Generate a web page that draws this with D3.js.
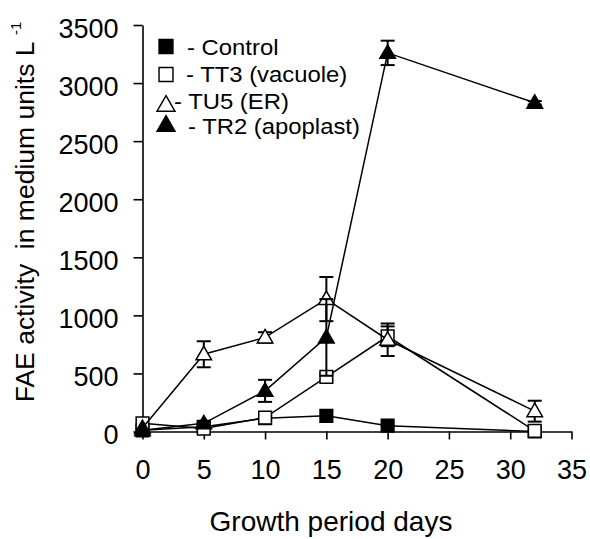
<!DOCTYPE html>
<html>
<head>
<meta charset="utf-8">
<script src="https://cdn.jsdelivr.net/npm/d3@7"></script>
<style>
  body { margin: 0; background: #fff; }
  svg { display: block; font-family: "Liberation Sans", Arial, sans-serif; }
</style>
</head>
<body>
<svg></svg>
<script>
const width = 590;
const height = 539;

// growth period (days)
const days = [0, 5, 10, 15, 20, 32];

// FAE activity, medium units per litre
const control = [10, 40, 115, 135, 50, 0];
const tt3 = [70, 25, 120, 470, 820, 5];
const tu5 = [30, 665, 810, 1140, 790, 175];
const tr2 = [10, 70, 350, 810, 3260, 2830];

// standard errors
const controlErr = [0, 0, 0, 0, 0, 0];
const tt3Err = [0, 10, 10, 30, 85, 0];
const tu5Err = [0, 112, 45, 190, 140, 90];
const tr2Err = [0, 20, 95, 330, 105, 15];

const xTicks = [0, 5, 10, 15, 20, 25, 30, 35];
const yTicks = [0, 500, 1000, 1500, 2000, 2500, 3000, 3500];

const legendLabels = ["- Control", "- TT3 (vacuole)", "- TU5 (ER)", "- TR2 (apoplast)"];

const series = [
  { name: "Control", values: control, err: controlErr, shape: "square", fill: "#000" },
  { name: "TT3", values: tt3, err: tt3Err, shape: "square", fill: "#fff" },
  { name: "TU5", values: tu5, err: tu5Err, shape: "triangle", fill: "#fff" },
  { name: "TR2", values: tr2, err: tr2Err, shape: "triangle", fill: "#000" },
];

const svg = d3.select("svg").attr("width", width).attr("height", height);

const x = d3.scaleLinear().domain([0, 35]).range([142.5, 571.5]);
const y = d3.scaleLinear().domain([0, 3500]).range([431.5, 25]);

const symSquare = d3.symbol().type(d3.symbolSquare).size(160);
const symTriangle = d3.symbol().type(d3.symbolTriangle).size(105);
const symbolPath = (shape) => (shape === "square" ? symSquare() : symTriangle());

// axes
const xAxis = svg.append("g")
  .attr("transform", `translate(0,${y(0)})`)
  .call(d3.axisBottom(x).tickValues(xTicks).tickFormat(d3.format("d"))
    .tickSize(8).tickPadding(20).tickSizeOuter(0));
const yAxis = svg.append("g")
  .attr("transform", `translate(${x(0)},0)`)
  .call(d3.axisLeft(y).tickValues(yTicks).tickFormat(d3.format("d"))
    .tickSize(9).tickPadding(15).tickSizeOuter(0));

[xAxis, yAxis].forEach((g) => {
  g.select(".domain").attr("stroke", "#000").attr("stroke-width", 1.6);
  g.selectAll(".tick line").attr("stroke", "#000").attr("stroke-width", 1.6);
  g.selectAll(".tick text").attr("fill", "#000").style("font-size", "27px")
    .style("font-family", "'Liberation Sans', Arial, sans-serif");
});
yAxis.selectAll(".tick text").attr("dy", "0.45em");

// lines, error bars, markers
const line = d3.line().x((d) => x(d.day)).y((d) => y(d.v));

series.forEach((s) => {
  const pts = days.map((day, i) => ({ day, v: s.values[i], e: s.err[i] }));
  const g = svg.append("g");

  g.append("path")
    .datum(pts)
    .attr("d", line)
    .attr("fill", "none")
    .attr("stroke", "#000")
    .attr("stroke-width", 1.5);

  const eb = g.selectAll(".err").data(pts.filter((d) => d.e > 0)).enter().append("g");
  eb.append("line")
    .attr("x1", (d) => x(d.day)).attr("x2", (d) => x(d.day))
    .attr("y1", (d) => y(d.v + d.e)).attr("y2", (d) => y(d.v - d.e))
    .attr("stroke", "#000").attr("stroke-width", 2);
  [1, -1].forEach((sgn) => {
    eb.append("line")
      .attr("x1", (d) => x(d.day) - 7).attr("x2", (d) => x(d.day) + 7)
      .attr("y1", (d) => y(d.v + sgn * d.e)).attr("y2", (d) => y(d.v + sgn * d.e))
      .attr("stroke", "#000").attr("stroke-width", 2);
  });

  g.selectAll(".pt").data(pts).enter().append("path")
    .attr("d", symbolPath(s.shape))
    .attr("transform", (d) => `translate(${x(d.day)},${y(d.v) + (s.shape === "triangle" ? 1 : 0)})`)
    .attr("fill", s.fill)
    .attr("stroke", "#000")
    .attr("stroke-width", 1.5);
});

// legend (text slightly stretched sideways, as in the original)
const legendSymbolY = [46.5, 74.5, 106, 126];
const legendTextY = [55, 82, 109, 134];
const legendTextX = [187, 186, 174, 188];
series.forEach((s, i) => {
  svg.append("path")
    .attr("d", symbolPath(s.shape))
    .attr("transform", `translate(166,${legendSymbolY[i]}) scale(${s.shape === "triangle" ? 1.15 : 1.1})`)
    .attr("fill", s.fill)
    .attr("stroke", "#000")
    .attr("stroke-width", 1.3);
  svg.append("text")
    .attr("transform", `translate(${legendTextX[i]},${legendTextY[i]}) scale(1.11,1)`)
    .style("font-size", "21.5px")
    .attr("fill", "#000")
    .text(legendLabels[i]);
});

// axis titles
svg.append("text")
  .attr("x", 331)
  .attr("y", 531)
  .attr("text-anchor", "middle")
  .style("font-size", "28px")
  .text("Growth period days");

const yTitle = svg.append("text")
  .attr("transform", "translate(34,212) rotate(-90)")
  .attr("text-anchor", "middle")
  .style("font-size", "26.5px");
yTitle.append("tspan").text("FAE activity\u00a0 in medium units L ");
yTitle.append("tspan").attr("dy", -13).style("font-size", "15px").text("-1");
</script>
</body>
</html>
